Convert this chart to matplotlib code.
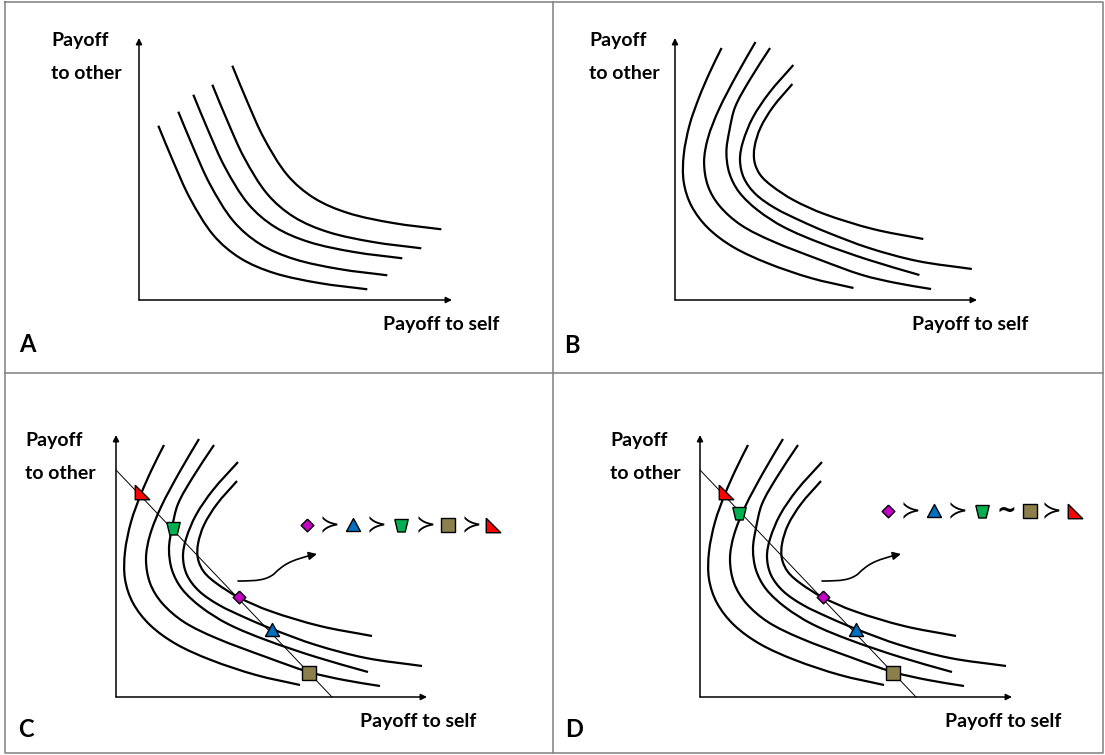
## Indifference curves: payoff to self vs payoff to other (four panels)

import numpy as np
import matplotlib
matplotlib.use('Agg')
import matplotlib.pyplot as plt
from matplotlib.path import Path
from matplotlib.patches import PathPatch, FancyArrowPatch

plt.rcParams['font.family'] = ['Lato', 'DejaVu Sans']

# panel geometry (pixels): axis origin, top of y-axis, end of x-axis, x stretch of curves
panel_names = ['A', 'B', 'C', 'D']
origin_x = [139, 675, 116, 700]
origin_y = [300, 300, 697, 697]
axis_top = [38, 38, 435, 435]
axis_right = [452, 977, 427, 1012]
curve_sx = [1.0, 0.97, 1.0, 1.0]

# panel A: one convex curve, repeated with shifts (X right, Y up from origin)
a_base_x = [19.3, 34.3, 51.0, 74.3, 101.0, 135.0, 180.0, 228.3]
a_base_y = [174.3, 138.3, 101.7, 65.0, 42.0, 27.0, 17.0, 10.7]
a_shift_x = [0, 20, 35, 54, 74]
a_shift_y = [0, 14, 31, 41, 60]

# panels B, C, D: bending curves
bend_x = [
    [48, 36, 25, 15, 9, 9, 17, 34, 60, 95, 140, 184],
    [83, 63, 45, 34, 30, 34, 46, 68, 100, 150, 193, 228, 264],
    [98, 77, 62, 56, 53, 56, 66, 85, 112, 150, 200, 252],
    [122, 97, 80, 70, 67, 71, 83, 103, 130, 156, 200, 250, 306],
    [121, 101, 88, 82, 82, 88, 100, 122, 154, 204, 256],
]
bend_y = [
    [252, 228, 203, 175, 145, 118, 94, 72, 53, 37, 22, 12],
    [258, 224, 190, 162, 138, 114, 94, 75, 59, 40, 25, 17, 11],
    [252, 220, 193, 169, 148, 127, 108, 90, 73, 57, 40, 25],
    [235, 207, 182, 158, 140, 122, 106, 92, 79, 68, 52, 39, 31],
    [216, 193, 172, 153, 138, 125, 114, 100, 86, 71, 61],
]

# budget line end points (X on x-axis, Y on y-axis)
line_x_end = 216
line_y_end = 227

# options on the line: diamond, triangle, trapezoid, square, corner triangle
opt_names = ['diamond', 'triangle', 'trapezoid', 'square', 'corner']
opt_colors = ['#C400C4', '#0070C0', '#00B050', '#8B804C', '#FF0000']
opt_x_c = [122.7, 156, 56.5, 193, 26]
opt_y_c = [100, 67, 169, 24.5, 205]
opt_x_d = [122.7, 156, 39.3, 193, 26]
opt_y_d = [100, 67, 184, 24.5, 205]

# preference chains
chain_c_x = [306.7, 329.3, 352.7, 376.7, 400.7, 425, 447.7, 471, 493.3]
chain_c_items = ['diamond', '≻', 'triangle', '≻', 'trapezoid', '≻', 'square', '≻', 'corner']
chain_c_y = 525
chain_d_x = [888.3, 910.7, 934.3, 957.3, 981.7, 1006.7, 1030, 1051.7, 1075]
chain_d_items = ['diamond', '≻', 'triangle', '≻', 'trapezoid', '~', 'square', '≻', 'corner']
chain_d_y = 511

marker_shapes = {
    'diamond': [(0, 1), (1, 0), (0, -1), (-1, 0), (0, 1)],
    'triangle': [(-7, -6), (7, -6), (0, 7), (-7, -6)],
    'trapezoid': [(-6.7, 6), (6.7, 6), (3.7, -6.5), (-3.7, -6.5), (-6.7, 6)],
    'square': [(-7, -7), (7, -7), (7, 7), (-7, 7), (-7, -7)],
    'corner': [(-7, 7), (-7, -7), (7, -7), (-7, 7)],
}
marker_px = {'diamond': 12.7, 'triangle': 14, 'trapezoid': 13.4, 'square': 14, 'corner': 14.5}


def smooth(xs, ys):
    # cubic pieces with chord-length tangents, so uneven spacing does not wobble
    pts = np.column_stack([xs, ys]).astype(float)
    n = len(pts)
    tang = np.zeros_like(pts)
    for i in range(n):
        a = pts[max(i - 1, 0)]
        b = pts[min(i + 1, n - 1)]
        d = b - a
        tang[i] = d / np.hypot(*d)
    verts = [pts[0]]
    codes = [Path.MOVETO]
    for i in range(n - 1):
        L = np.hypot(*(pts[i + 1] - pts[i]))
        verts += [pts[i] + tang[i] * L / 3, pts[i + 1] - tang[i + 1] * L / 3, pts[i + 1]]
        codes += [Path.CURVE4] * 3
    return Path(verts, codes)


def draw_curve(k, xs, ys):
    px = [origin_x[k] + x * curve_sx[k] for x in xs]
    py = [origin_y[k] - y for y in ys]
    ax.add_patch(PathPatch(smooth(px, py), fill=False, lw=1.6, color='black',
                           capstyle='butt'))


def put_marker(name, x, y):
    ax.plot([x], [y], linestyle='none', marker=marker_shapes[name],
            markersize=marker_px[name] * 0.72, markerfacecolor=opt_colors[opt_names.index(name)],
            markeredgecolor='black', markeredgewidth=1.0, zorder=5)


fig = plt.figure(figsize=(11.05, 7.55), dpi=100)
ax = fig.add_axes([0, 0, 1, 1])
ax.set_xlim(0, 1105)
ax.set_ylim(755, 0)
ax.axis('off')

# panel frame
frame = '#7F7F7F'
ax.plot([5, 1103, 1103, 5, 5], [2, 2, 753, 753, 2], color=frame, lw=1.1)
ax.plot([553, 553], [2, 753], color=frame, lw=1.1)
ax.plot([5, 1103], [373, 373], color=frame, lw=1.1)

for k, name in enumerate(panel_names):
    ox, oy = origin_x[k], origin_y[k]
    for tip in [(ox, axis_top[k]), (axis_right[k], oy)]:
        ax.annotate('', xy=tip, xytext=(ox, oy),
                    arrowprops=dict(arrowstyle='-|>', lw=1.1, color='black',
                                    mutation_scale=9, shrinkA=0, shrinkB=0))

    if name == 'A':
        for sx, sy in zip(a_shift_x, a_shift_y):
            draw_curve(k, [x + sx for x in a_base_x], [y + sy for y in a_base_y])
    else:
        for xs, ys in zip(bend_x, bend_y):
            draw_curve(k, xs, ys)

    if name in ('C', 'D'):
        ax.plot([ox, ox + line_x_end], [oy - line_y_end, oy], color='black', lw=0.7)
        mx = opt_x_c if name == 'C' else opt_x_d
        my = opt_y_c if name == 'C' else opt_y_d
        for nm, x, y in zip(opt_names, mx, my):
            put_marker(nm, ox + x, oy - y)

        # curved arrow pointing at the ranking
        sx0, sy0 = ox + 122, oy - 116
        verts = [(sx0, sy0), (sx0 + 20, sy0), (sx0 + 28, sy0 - 1), (sx0 + 36, sy0 - 7),
                 (sx0 + 45, sy0 - 16), (sx0 + 52, sy0 - 21), (sx0 + 79, sy0 - 27)]
        codes = [Path.MOVETO] + [Path.CURVE4] * 6
        ax.add_patch(FancyArrowPatch(path=Path(verts, codes), arrowstyle='-|>',
                                     mutation_scale=12, lw=1.2, color='black'))

        cx = chain_c_x if name == 'C' else chain_d_x
        items = chain_c_items if name == 'C' else chain_d_items
        cy = chain_c_y if name == 'C' else chain_d_y
        for x, it in zip(cx, items):
            if it in marker_shapes:
                put_marker(it, x, cy)
            elif it == '~':
                ax.text(x, cy, it, ha='center', va='center', fontsize=17,
                        fontweight='bold', family='DejaVu Sans')
            else:
                ax.text(x, cy, it, ha='center', va='center', fontsize=17,
                        family='DejaVu Sans')

# labels
lab_other_x = [51, 589, 25, 610]
lab_other_y = [46, 46, 446, 446]
lab_self_x = [383, 912, 360, 945]
lab_self_y = [330, 330, 727, 727]
letter_x = [19, 564, 18, 565]
letter_y = [352, 353, 737, 737]

for k, name in enumerate(panel_names):
    ax.text(lab_other_x[k], lab_other_y[k], 'Payoff', fontsize=14, fontweight='bold',
            ha='left', va='baseline')
    ax.text(lab_other_x[k], lab_other_y[k] + 33, 'to other', fontsize=14, fontweight='bold',
            ha='left', va='baseline')
    ax.text(lab_self_x[k], lab_self_y[k], 'Payoff to self', fontsize=14, fontweight='bold',
            ha='left', va='baseline')
    ax.text(letter_x[k], letter_y[k], name, fontsize=17, fontweight='bold',
            ha='left', va='baseline')

fig.savefig('out.png', dpi=100)
